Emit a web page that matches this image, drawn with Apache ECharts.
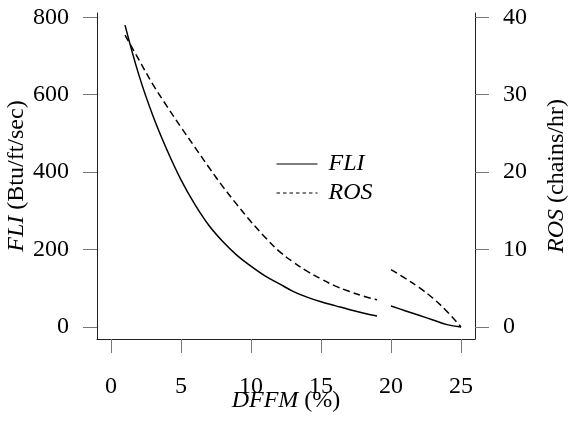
<!DOCTYPE html>
<html>
<head>
<meta charset="utf-8">
<script src="https://cdn.jsdelivr.net/npm/echarts@6/dist/echarts.min.js"></script>
<style>html,body{margin:0;padding:0;background:#fff}#c{width:571px;height:421px}</style>
</head>
<body>
<div id="c"></div>
<script>
// DFFM (%) values
var dffm = [1,2,3,4,5,6,7,8,9,10,11,12,13,14,15,16,17,18,19,null,20,21,22,23,24,25];
// FLI (Btu/ft/sec)
var fli = [780,650,545,457,380,316,262,220,185,157,132,112,92,77,65,55,45,36,28,null,54,42,30,18,6,0];
// ROS (chains/hr)
var ros = [37.7,34.5,31.3,28.5,25.8,23.2,20.6,18.1,15.8,13.6,11.6,9.8,8.4,7.2,6.2,5.3,4.6,4.0,3.5,null,7.4,6.3,5.1,3.7,2.0,0];
var xTicks = [0,5,10,15,20,25];
var fliTicks = [0,200,400,600,800];
var rosTicks = [0,10,20,30,40];

function pairs(xs, ys){
  return xs.map(function(x,i){ return (x===null||ys[i]===null) ? ['-','-'] : [x, ys[i]]; });
}
var FONT = "'Liberation Serif','Times New Roman',serif";
var FS = 24;
var chart = echarts.init(document.getElementById('c'), null, {renderer:'canvas'});
var axisText = {fontFamily:FONT, fontSize:FS, color:'#000'};
var nameStyle = {fontFamily:FONT, fontSize:FS, color:'#000', rich:{i:{fontFamily:FONT, fontSize:FS, fontStyle:'italic', color:'#000'}}};
chart.setOption({
  animation:false,
  backgroundColor:'#fff',
  grid:{left:97, right:96, top:13, bottom:82, containLabel:false, outerBoundsMode:'none'},
  legend:{
    left:271, top:147, orient:'vertical', itemWidth:41, itemHeight:24, itemGap:5,
    textStyle:{fontFamily:FONT, fontSize:FS, fontStyle:'italic', color:'#000', padding:[0,0,0,6]},
    data:[
      {name:'FLI', itemStyle:{opacity:0, borderWidth:0}, lineStyle:{color:'#000', width:1, type:'solid'}},
      {name:'ROS', itemStyle:{opacity:0, borderWidth:0}, lineStyle:{color:'#000', width:1, type:[3.5,3]}}
    ]
  },
  xAxis:{
    type:'value', min:-1, max:26,
    axisLine:{show:true, onZero:false, lineStyle:{color:'#222', width:1}},
    axisTick:{show:true, inside:false, length:14, customValues:xTicks, lineStyle:{color:'#777'}},
    axisLabel:Object.assign({margin:36, customValues:xTicks}, axisText),
    splitLine:{show:false},
    name:'{i|DFFM} (%)', nameLocation:'middle', nameGap:50, nameMoveOverlap:false,
    nameTextStyle:nameStyle
  },
  yAxis:[
    {
      type:'value', position:'left', min:-31.2, max:811.2,
      axisLine:{show:true, onZero:false, lineStyle:{color:'#222', width:1}},
      axisTick:{show:true, length:14, customValues:fliTicks, lineStyle:{color:'#777'}},
      axisLabel:Object.assign({margin:28, customValues:fliTicks}, axisText),
      splitLine:{show:false},
      name:'{i|FLI} (Btu/ft/sec)', nameLocation:'middle', nameGap:68, nameRotate:90, nameMoveOverlap:false,
      nameTextStyle:nameStyle
    },
    {
      type:'value', position:'right', min:-1.56, max:40.56,
      axisLine:{show:true, onZero:false, lineStyle:{color:'#222', width:1}},
      axisTick:{show:true, length:14, customValues:rosTicks, lineStyle:{color:'#777'}},
      axisLabel:Object.assign({margin:28, customValues:rosTicks}, axisText),
      splitLine:{show:false},
      name:'{i|ROS} (chains/hr)', nameLocation:'middle', nameGap:70, nameRotate:90, nameMoveOverlap:false,
      nameTextStyle:nameStyle
    }
  ],
  series:[
    {name:'FLI', type:'line', yAxisIndex:0, data:pairs(dffm, fli), showSymbol:false, symbol:'none',
     smooth:0.4, connectNulls:false, lineStyle:{color:'#000', width:1.5, type:'solid'}, itemStyle:{color:'#000'}},
    {name:'ROS', type:'line', yAxisIndex:1, data:pairs(dffm, ros), showSymbol:false, symbol:'none',
     smooth:0.4, connectNulls:false, lineStyle:{color:'#000', width:1.5, type:[7,4]}, itemStyle:{color:'#000'}}
  ]
});
</script>
</body>
</html>
